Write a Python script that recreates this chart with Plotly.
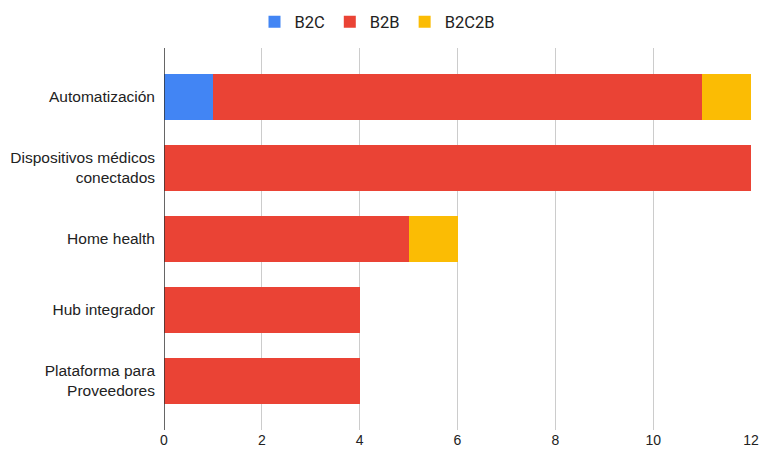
import plotly.graph_objects as go

categories = ["Automatización", "Dispositivos médicos<br>conectados", "Home health",
              "Hub integrador", "Plataforma para<br>Proveedores"]
b2c = [1, 0, 0, 0, 0]
b2b = [10, 12, 5, 4, 4]
b2c2b = [1, 0, 1, 0, 0]

series = [("B2C", b2c, "#4285F4"), ("B2B", b2b, "#EA4335"), ("B2C2B", b2c2b, "#FBBC04")]

W, H = 764, 452

fig = go.Figure()
for name, vals, color in series:
    fig.add_trace(go.Bar(y=categories, x=vals, name=name, orientation="h",
                         marker=dict(color=color, line=dict(width=0)), width=0.66))

fig.update_layout(
    barmode="stack",
    width=W, height=H,
    margin=dict(l=164, r=13, t=48, b=22, autoexpand=False),
    paper_bgcolor="white", plot_bgcolor="white",
    font=dict(family="Arial, Liberation Sans, sans-serif", size=15.5, color="#222222"),
    legend=dict(orientation="h", x=377 / W, xanchor="center", xref="container",
                y=1 - 22 / H, yanchor="middle", yref="container",
                font=dict(family="Roboto, Arial, sans-serif", size=16.5, color="#222222"),
                traceorder="normal"),
    xaxis=dict(range=[0, 12], dtick=2, showgrid=True, gridcolor="#CCCCCC", gridwidth=1,
               zeroline=False, showline=False, ticks="", automargin=False,
               ticklabeloverflow="allow",
               tickfont=dict(size=14, color="#222222")),
    yaxis=dict(autorange=False, range=[4.69, -0.69], showgrid=False, ticks="",
               automargin=False, ticklabelstandoff=8,
               tickfont=dict(size=15.5, color="#222222"), showline=False),
)
fig.add_shape(type="line", xref="x", yref="paper", x0=0, x1=0, y0=0, y1=1,
              line=dict(color="#333333", width=1.5), layer="above")
fig.write_html("out.html", config={"displayModeBar": False},
               post_script="document.body.style.margin='0';"
                           "document.documentElement.style.overflow='hidden';")
